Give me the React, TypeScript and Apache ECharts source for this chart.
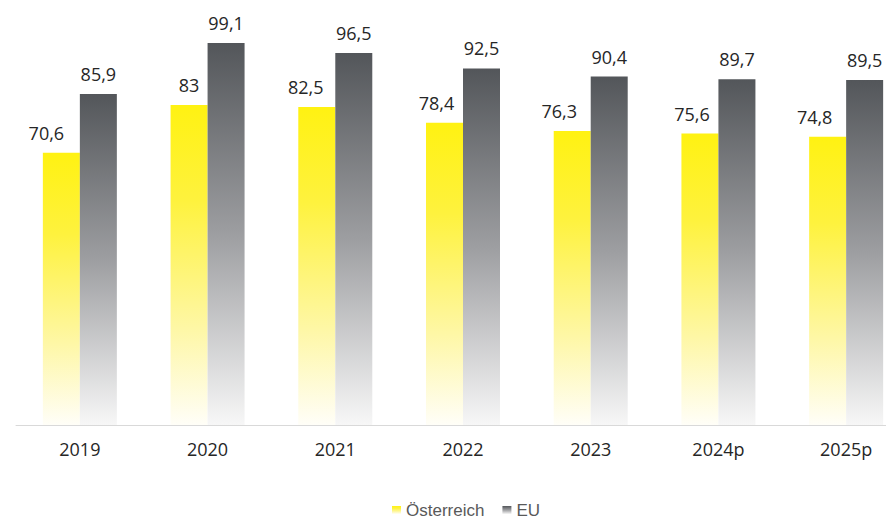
import React, { useEffect, useRef } from "react";
import * as echarts from "echarts";

const categories = ["2019", "2020", "2021", "2022", "2023", "2024p", "2025p"];
const austria = [70.6, 83, 82.5, 78.4, 76.3, 75.6, 74.8];
const eu = [85.9, 99.1, 96.5, 92.5, 90.4, 89.7, 89.5];
const seriesNames = ["Österreich", "EU"];
// horizontal nudge of the Austrian value labels, as placed in the original
const austriaLabelDx = [-15, 0, -11, -8, -13, -8, -13];

const fmt = (v: number) => String(v).replace(".", ",");

export default function App() {
  const ref = useRef<HTMLDivElement>(null);
  useEffect(() => {
    if (!ref.current) return;
    const chart = echarts.init(ref.current, null, { renderer: "svg" });
    const yellow = new echarts.graphic.LinearGradient(0, 0, 0, 1, [
      { offset: 0, color: "#FFF212" },
      { offset: 0.3, color: "#FEF23E" },
      { offset: 0.7, color: "#FEF7A6" },
      { offset: 1, color: "#FFFEF8" },
    ]);
    const gray = new echarts.graphic.LinearGradient(0, 0, 0, 1, [
      { offset: 0, color: "#53565A" },
      { offset: 0.5, color: "#9D9EA1" },
      { offset: 1, color: "#F7F7F7" },
    ]);
    const labelFont = {
      fontFamily: "Open Sans",
      fontSize: 18,
      color: "#262626",
    };
    chart.setOption({
      animation: false,
      grid: { left: 16, top: 1, height: 424, width: 894 },
      legend: {
        data: seriesNames,
        left: 392,
        top: 501,
        icon: "rect",
        itemWidth: 9,
        itemHeight: 8,
        itemGap: 18,
        padding: 0,
        textStyle: {
          fontFamily: "Liberation Sans",
          fontSize: 17,
          lineHeight: 18,
          color: "#595959",
        },
      },
      xAxis: {
        type: "category",
        data: categories,
        axisLine: { lineStyle: { color: "#D9D9D9", width: 1 } },
        axisTick: { show: false },
        axisLabel: { ...labelFont, margin: 15 },
      },
      yAxis: {
        type: "value",
        min: 0,
        max: 110,
        show: false,
        splitLine: { show: false },
      },
      series: [
        {
          name: seriesNames[0],
          type: "bar",
          barWidth: 37,
          barGap: "0%",
          itemStyle: { color: yellow },
          label: {
            show: true,
            position: "top",
            distance: 11,
            ...labelFont,
            formatter: (p: any) => fmt(p.value),
          },
          data: austria.map((v, i) => ({
            value: v,
            label: { offset: [austriaLabelDx[i], 0] },
          })),
        },
        {
          name: seriesNames[1],
          type: "bar",
          barWidth: 37,
          barGap: "0%",
          itemStyle: { color: gray },
          label: {
            show: true,
            position: "top",
            distance: 11,
            ...labelFont,
            formatter: (p: any) => fmt(p.value),
          },
          data: eu,
        },
      ],
    });
    return () => chart.dispose();
  }, []);
  return (
    <div
      style={{
        position: "fixed",
        left: 0,
        top: 0,
        width: 886,
        height: 520,
        overflow: "hidden",
        background: "#fff",
      }}
    >
      <div ref={ref} style={{ width: 910, height: 520 }} />
    </div>
  );
}
